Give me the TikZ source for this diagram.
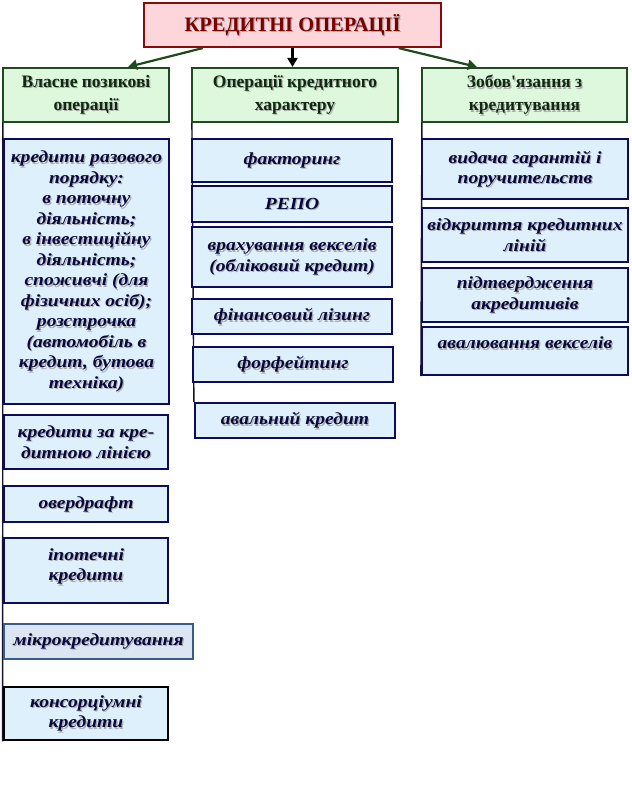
\documentclass[tikz,border=0pt]{standalone}
\usepackage{fontspec}
\setmainfont{Liberation Serif}
\newfontfamily\itemfont{Liberation Serif}[FakeStretch=1.15]
\usetikzlibrary{arrows.meta,calc}
\definecolor{tfill}{HTML}{FCD6DA}
\definecolor{tdraw}{HTML}{860C0C}
\definecolor{ttext}{HTML}{7A0000}
\definecolor{hfill}{HTML}{DDF8DD}
\definecolor{hdraw}{HTML}{1E4A1E}
\definecolor{htext}{HTML}{0E2A0E}
\definecolor{ifill}{HTML}{DDF0FB}
\definecolor{idraw}{HTML}{0C0C5A}
\definecolor{itext}{HTML}{08083E}
\definecolor{mfill}{HTML}{DCE6F2}
\definecolor{mdraw}{HTML}{385D8A}
\definecolor{gline}{HTML}{1E4A1E}
\definecolor{vcol}{HTML}{141432}
\pgfdeclarelayer{bg}
\pgfdeclarelayer{lines}
\pgfsetlayers{bg,lines,main}
\tikzset{
  titlebox/.style={draw=tdraw, fill=tfill, line width=2.2bp, inner sep=0pt},
  headbox/.style={draw=hdraw, fill=hfill, line width=2.2bp, inner sep=0pt},
  itembox/.style={draw=idraw, fill=ifill, line width=2.2bp, inner sep=0pt},
  microbox/.style={draw=mdraw, fill=mfill, line width=2.2bp, inner sep=0pt},
  consbox/.style={draw=black, fill=ifill, line width=2.8bp, inner sep=0pt},
  itemtext/.style={font=\itemfont\fontsize{17bp}{20.5bp}\selectfont\bfseries\itshape, text=itext, align=center, inner sep=0pt},
  headtext/.style={font=\fontsize{17.5bp}{23bp}\selectfont\bfseries, text=htext, align=center, inner sep=0pt},
  titletext/.style={font=\fontsize{20.5bp}{22bp}\selectfont\bfseries, text=ttext, align=center, inner sep=0pt},
  shadowtext/.style={text=gray!65},
  garrow/.style={draw=gline, line width=2.2bp, -{Triangle[length=9bp,width=10bp]}},
  karrow/.style={draw=black, line width=2.6bp, -{Triangle[length=9bp,width=10bp]}},
  vline/.style={draw=vcol, line width=1.4bp},
}
\newcommand\bx[8]{%
  \node[#2, minimum width={(#6-#4)*1bp}, minimum height={(#7-#5)*1bp}] (#1) at ({(#4+#6)/2},{(#5+#7)/2}) {};
  \node[#3, shadowtext] (#1-s) at ($(#1.center)+(1.2,1.2)$) {#8};
  \node[#3] (#1-t) at (#1.center) {#8};
}
\begin{document}
\begin{tikzpicture}[x=1bp,y=-1bp]
\begin{pgfonlayer}{bg}
  \fill[white] (0,0) rectangle (632,808);
\end{pgfonlayer}
\useasboundingbox (0,0) rectangle (632,808);

\bx{title}{titlebox}{titletext}{144}{3}{441}{47}{КРЕДИТНІ ОПЕРАЦІЇ}

\bx{h1}{headbox}{headtext}{3}{68}{169}{122}{Власне позикові\\операції}
\bx{h2}{headbox}{headtext}{192}{68}{398}{122}{Операції кредитного\\характеру}
\bx{h3}{headbox}{headtext}{422}{68}{627}{122}{Зобов\textquotesingle язання з\\кредитування}

\bx{a1}{itembox}{itemtext}{4}{139}{169}{404}{кредити разового\\порядку:\\в поточну\\діяльність;\\в інвестиційну\\діяльність;\\споживчі (для\\фізичних осіб);\\розстрочка\\(автомобіль в\\кредит, бутова\\техніка)}
\bx{a2}{itembox}{itemtext}{4}{415}{168}{469}{кредити за кре-\\дитною лінією}
\bx{a3}{itembox}{itemtext}{4}{486}{168}{522}{овердрафт}
\bx{a4}{itembox}{itemtext,yshift=4bp}{4}{538}{168}{603}{іпотечні\\кредити}
\bx{a5}{microbox}{itemtext}{4}{624}{193}{659}{мікрокредитування}
\bx{a6}{consbox}{itemtext}{4}{687}{168}{740}{консорціумні\\кредити}

\bx{b1}{itembox}{itemtext}{192}{139}{392}{182}{факторинг}
\bx{b2}{itembox}{itemtext}{192}{186}{392}{222}{РЕПО}
\bx{b3}{itembox}{itemtext}{192}{227}{392}{287}{врахування векселів\\(обліковий кредит)}
\bx{b4}{itembox}{itemtext}{192}{299}{392}{334}{фінансовий лізинг}
\bx{b5}{itembox}{itemtext}{193}{347}{393}{382}{форфейтинг}
\bx{b6}{itembox}{itemtext}{195}{403}{395}{438}{авальний кредит}

\bx{c1}{itembox}{itemtext}{422}{139}{628}{199}{видача гарантій і\\поручительств}
\bx{c2}{itembox}{itemtext}{422}{208}{628}{262}{відкриття кредитних\\ліній}
\bx{c3}{itembox}{itemtext}{422}{268}{628}{322}{підтвердження\\акредитивів}
\bx{c4}{itembox}{itemtext,yshift=8bp}{422}{327}{628}{375}{авалювання векселів}

\begin{pgfonlayer}{lines}
  \draw[vline] ($(h1.south west)+(1,0)$) -- ($(a6.south west)+(0,0)$);
  \draw[vline] ($(h2.south west)+(1,0)$) -- ($(b6.north west)+(0,0)$);
  \draw[vline] ($(h3.south west)+(1,0)$) -- ($(c4.south west)+(0,0)$);
\end{pgfonlayer}

\draw[garrow] ($(title.south west)!0.2!(title.south east)$) -- ($(h1.north west)!0.75!(h1.north east)$);
\draw[karrow] (title.south) -- (title.south |- h2.north);
\draw[garrow] ($(title.south west)!0.855!(title.south east)$) -- ($(h3.north west)!0.27!(h3.north east)$);
\end{tikzpicture}
\end{document}
